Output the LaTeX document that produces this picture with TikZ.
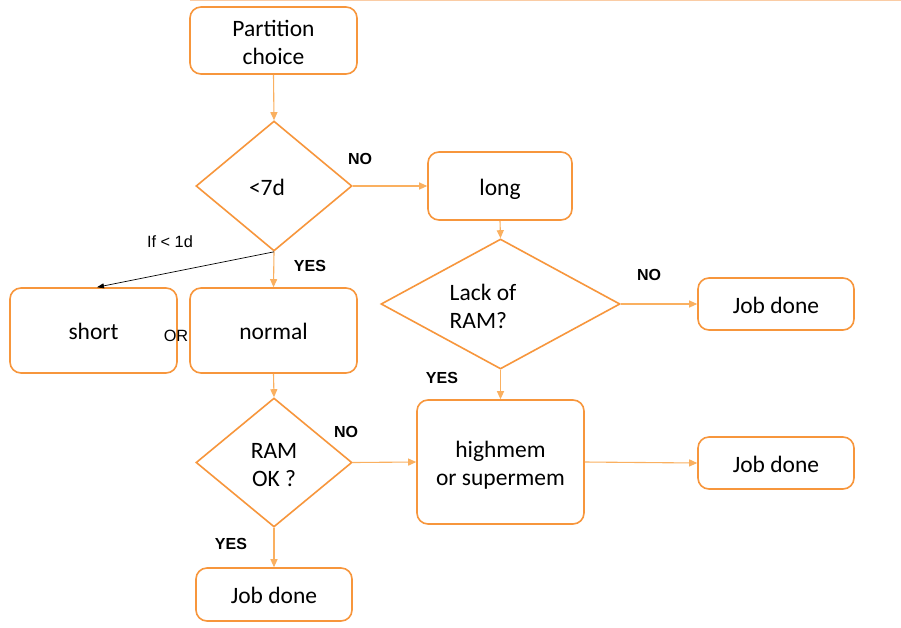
\documentclass[tikz,border=0pt]{standalone}
\usepackage{fontspec}
\setmainfont{Carlito}
\newfontfamily\arialfont{Liberation Sans}
\usetikzlibrary{shapes.geometric,arrows.meta}
\definecolor{boxor}{RGB}{247,150,60}
\definecolor{arrowor}{RGB}{250,176,96}
\definecolor{lineor}{RGB}{250,204,165}
\tikzset{
  box/.style={draw=boxor, line width=1.6pt, rounded corners=11pt, inner sep=0pt,
    font=\fontsize{23.5}{28}\selectfont, align=center},
  oneline/.style={text height=22pt, text depth=4pt},
  dia/.style={draw=boxor, line width=1.6pt, diamond, inner sep=0pt},
  txt/.style={font=\fontsize{23.5}{28}\selectfont, inner sep=0pt},
  lbl/.style={font=\arialfont\bfseries\fontsize{16}{18}\selectfont, inner sep=0pt},
  note/.style={font=\arialfont\fontsize{16.3}{18}\selectfont, inner sep=0pt},
  conn/.style={draw=arrowor, line width=1.1pt, -{Triangle[length=8pt,width=7pt]}},
}
\begin{document}
\begin{tikzpicture}[x=1pt,y=-1pt]
\useasboundingbox (0,0) rectangle (901,627);
\fill[white] (0,0) rectangle (901,627);
\draw[lineor, line width=1.4pt] (190,0.7) -- (901,0.7);

% boxes
\node[box, minimum width=167pt, minimum height=67pt] (pc) at (273.5,40.5) {};
\node[txt, align=center] (t0) at (273.5,42) {Partition\\choice};
\node[box, oneline, minimum width=144pt, minimum height=68pt] (long) at (500,186) {long};
\node[box, oneline, minimum width=156pt, minimum height=52pt] (jd1) at (776,304) {Job done};
\node[box, oneline, minimum width=167pt, minimum height=85pt] (short) at (93.5,330.5) {short};
\node[box, oneline, minimum width=167pt, minimum height=85pt] (normal) at (273.5,330.5) {normal};
\node[box, minimum width=167pt, minimum height=124pt] (hm) at (500.5,462) {};
\node[txt, align=center] (t4) at (500.5,465) {highmem\\or supermem};
\node[box, oneline, minimum width=156pt, minimum height=52pt] (jd2) at (776,463) {Job done};
\node[box, oneline, minimum width=156pt, minimum height=53pt] (jd3) at (274,594.5) {Job done};

% diamonds
\node[dia, minimum width=156pt, minimum height=130pt] (d1) at (274,186) {};
\node[dia, minimum width=239pt, minimum height=130pt] (d2) at (500.5,304) {};
\node[dia, minimum width=156pt, minimum height=129pt] (d3) at (274,462.5) {};
\node[txt] (t1) at (267,187) {<7d};
\node[txt, align=left] (t2) at (483,306) {Lack of\\RAM?};
\node[txt, align=center] (t3) at (274,465) {RAM\\OK ?};

% connectors
\draw[conn] (pc.south) -- (d1.north);
\draw[conn] (d1.east) -- (long.west);
\draw[conn] (d1.south) -- (normal.north);
\draw[black, line width=0.7pt, -{Triangle[length=7pt,width=5pt]}] (d1.south) -- (short.north -| 97,0);
\draw[conn] (long.south) -- (d2.north);
\draw[conn] (d2.east) -- (jd1.west);
\draw[conn] (d2.south) -- (hm.north);
\draw[conn] (normal.south) -- (d3.north);
\draw[conn] (d3.east) -- (hm.west);
\draw[conn] (d3.south) -- (jd3.north);
\draw[conn] (hm.east) -- (jd2.west);

% labels
\node[lbl] (l1) at (360,159) {NO};
\node[lbl] (l2) at (310,266) {YES};
\node[note] (l3) at (170,242) {If < 1d};
\node[note] (l4) at (176,336) {OR};
\node[lbl] (l5) at (649,275) {NO};
\node[lbl] (l6) at (442,378) {YES};
\node[lbl] (l7) at (346,432) {NO};
\node[lbl] (l8) at (231,544) {YES};
\end{tikzpicture}
\end{document}
